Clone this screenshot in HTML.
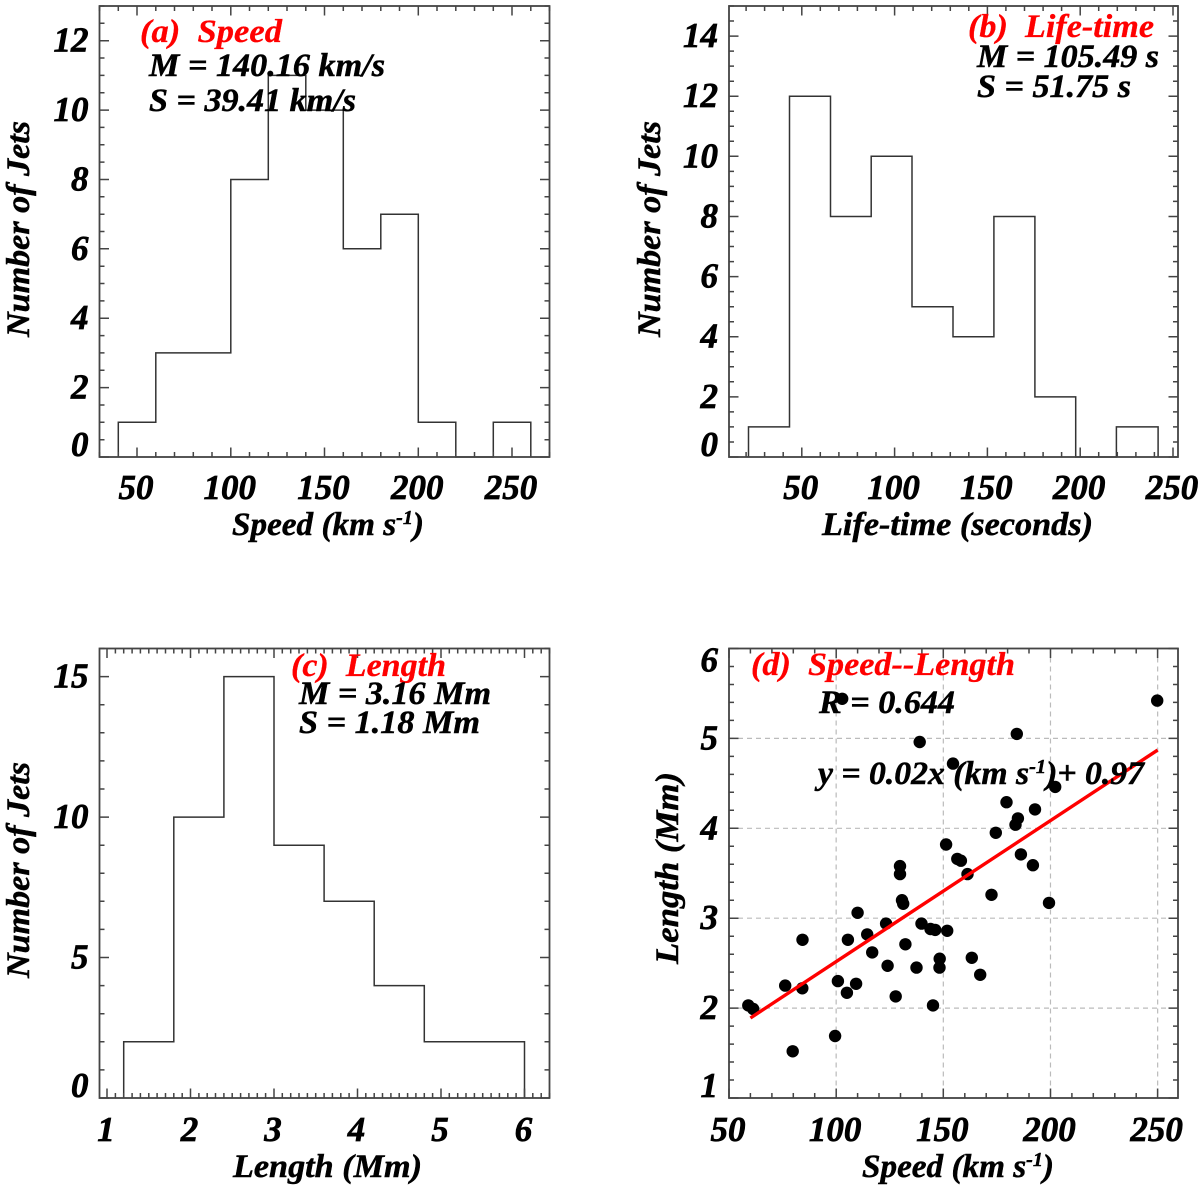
<!DOCTYPE html>
<html lang="en">
<head>
<meta charset="utf-8">
<title>Jet statistics</title>
<style>
html,body{margin:0;padding:0;background:#fff}
svg{display:block}
text{font-family:"Liberation Serif",serif;font-weight:bold;font-style:italic;fill:#000;white-space:pre}
.tick{font-size:35px;stroke:#000;stroke-width:.7px}
.title{font-size:33px;stroke:#000;stroke-width:.5px}
.note{font-size:33px;stroke:#000;stroke-width:.5px}
.red{font-size:33px;fill:#f00;stroke:#f00;stroke-width:.3px}
.sup{font-size:20px}
</style>
</head>
<body>
<svg id="figure" xmlns="http://www.w3.org/2000/svg" width="1200" height="1191" viewBox="0 0 1200 1191">
<rect width="1200" height="1191" fill="#fff"/>
<g id="panel-a"></g>
<g id="panel-b"></g>
<g id="panel-c"></g>
<g id="panel-d"></g>

<g>
<text class="title" transform="translate(29,229) rotate(-90)" x="-108" textLength="216" lengthAdjust="spacingAndGlyphs">Number of Jets</text>
<text class="title" x="232" y="535" textLength="192" lengthAdjust="spacingAndGlyphs">Speed (km s<tspan class="sup" dy="-11">-1</tspan><tspan dy="11">)</tspan></text>
<text class="red" x="140" y="42" textLength="142" lengthAdjust="spacingAndGlyphs">(a)  Speed</text>
<text class="note" x="149" y="76" textLength="236" lengthAdjust="spacingAndGlyphs">M = 140.16 km/s</text>
<text class="note" x="149" y="111" textLength="207" lengthAdjust="spacingAndGlyphs">S = 39.41 km/s</text>
</g>
<g>
<text class="title" transform="translate(660,229) rotate(-90)" x="-108" textLength="216" lengthAdjust="spacingAndGlyphs">Number of Jets</text>
<text class="title" x="822" y="535" textLength="271" lengthAdjust="spacingAndGlyphs">Life-time (seconds)</text>
<text class="red" x="968" y="37" textLength="186" lengthAdjust="spacingAndGlyphs">(b)  Life-time</text>
<text class="note" x="977" y="67" textLength="182" lengthAdjust="spacingAndGlyphs">M = 105.49 s</text>
<text class="note" x="977" y="97" textLength="154" lengthAdjust="spacingAndGlyphs">S = 51.75 s</text>
</g>
<g>
<text class="title" transform="translate(29,870) rotate(-90)" x="-108" textLength="216" lengthAdjust="spacingAndGlyphs">Number of Jets</text>
<text class="title" x="233" y="1177" textLength="189" lengthAdjust="spacingAndGlyphs">Length (Mm)</text>
<text class="red" x="291" y="676" textLength="155" lengthAdjust="spacingAndGlyphs">(c)  Length</text>
<text class="note" x="299" y="704" textLength="192" lengthAdjust="spacingAndGlyphs">M = 3.16 Mm</text>
<text class="note" x="299" y="733" textLength="181" lengthAdjust="spacingAndGlyphs">S = 1.18 Mm</text>
</g>
<g>
<text class="title" transform="translate(678,864) rotate(-90)" x="-100" textLength="192" lengthAdjust="spacingAndGlyphs">Length (Mm)</text>
<text class="title" x="862" y="1177" textLength="192" lengthAdjust="spacingAndGlyphs">Speed (km s<tspan class="sup" dy="-11">-1</tspan><tspan dy="11">)</tspan></text>
<text class="red" x="751" y="675" textLength="264" lengthAdjust="spacingAndGlyphs">(d)  Speed--Length</text>
<text class="note" x="819" y="713" textLength="136" lengthAdjust="spacingAndGlyphs">R = 0.644</text>
<text class="note" x="818" y="784" textLength="326" lengthAdjust="spacingAndGlyphs">y = 0.02x (km s<tspan class="sup" dy="-11">-1</tspan><tspan dy="11">)+ 0.97</tspan></text>
</g>
</svg>

<script>
// Panel (a) speed histogram
const speedEdges = [40, 60, 80, 100, 120, 140, 160, 180, 200, 220, 240, 260];
const speedCounts = [1, 3, 3, 8, 11, 10, 6, 7, 1, 0, 1];
const speedXTicks = [50, 100, 150, 200, 250];
const speedYTicks = [0, 2, 4, 6, 8, 10, 12];

// Panel (b) life-time histogram
const lifeEdges = [21.3, 43.4, 65.5, 87.4, 109.4, 131.5, 153.5, 175.6, 197.6, 219.5, 242];
const lifeCounts = [1, 12, 8, 10, 5, 4, 8, 2, 0, 1];
const lifeXTicks = [50, 100, 150, 200, 250];
const lifeYTicks = [0, 2, 4, 6, 8, 10, 12, 14];

// Panel (c) length histogram
const lengthEdges = [1.2, 1.8, 2.4, 3.0, 3.6, 4.2, 4.8, 5.4, 6.0];
const lengthCounts = [2, 10, 15, 9, 7, 4, 2, 2];
const lengthXTicks = [1, 2, 3, 4, 5, 6];
const lengthYTicks = [0, 5, 10, 15];

// Panel (d) speed vs length scatter
const scatterSpeed = [102.8, 249.8, 184.3, 139, 154.5, 202.2, 179.5, 192.8, 184.8, 183.7, 174.5, 151.3, 186.2, 156.5, 158.2, 191.8, 129.8, 129.8, 161.3, 172.5, 130.7, 131.3, 199.3, 110, 123.3, 139.8, 144, 146.2, 151.8, 114.5, 84.3, 105.5, 132.3, 116.8, 163.3, 148.3, 148.2, 124, 137.5, 167.2, 76.2, 109.3, 100.8, 84.2, 105, 127.8, 145.2, 59, 61.3, 99.5, 79.7];
const scatterLength = [5.44, 5.42, 5.05, 4.96, 4.72, 4.46, 4.29, 4.21, 4.11, 4.04, 3.95, 3.82, 3.71, 3.66, 3.64, 3.59, 3.58, 3.49, 3.49, 3.26, 3.20, 3.16, 3.17, 3.06, 2.94, 2.94, 2.88, 2.87, 2.86, 2.82, 2.76, 2.76, 2.71, 2.62, 2.56, 2.55, 2.45, 2.47, 2.45, 2.37, 2.25, 2.27, 2.30, 2.22, 2.17, 2.13, 2.03, 2.03, 1.99, 1.69, 1.52];
const fitSpeed = [60, 250];
const fitLength = [1.89, 4.87];
const scatterXTicks = [50, 100, 150, 200, 250];
const scatterYTicks = [1, 2, 3, 4, 5, 6];
const gridXValues = [100, 150, 200, 250];
const gridYValues = [2, 3, 4, 5];

const NS = 'http://www.w3.org/2000/svg';
const AXIS_COLOR = '#444';

function mk(parent, tag, attrs) {
  const el = document.createElementNS(NS, tag);
  for (const k in attrs) el.setAttribute(k, attrs[k]);
  parent.appendChild(el);
  return el;
}
function scale(d0, d1, r0, r1) {
  return function (v) { return r0 + (v - d0) / (d1 - d0) * (r1 - r0); };
}
function minorValues(lo, hi, step) {
  const out = [];
  const n0 = Math.ceil(lo / step - 1e-6);
  const n1 = Math.floor(hi / step + 1e-6);
  for (let n = n0; n <= n1; n++) out.push(+(n * step).toFixed(4));
  return out;
}

function drawAxes(g, cfg, sx, sy) {
  const L = cfg.left, R = cfg.right, T = cfg.top, B = cfg.bottom;
  const ticks = mk(g, 'g', {stroke: AXIS_COLOR, 'stroke-width': 1.5});
  
  
  let d = '';
  const xMajor = new Set(cfg.xTicks);
  minorValues(cfg.x0, cfg.x1, cfg.xMinor).forEach(function (v) {
    const len = xMajor.has(v) ? 9.5 : 5;
    const x = sx(v).toFixed(1);
    d += 'M' + x + ' ' + B + 'V' + (B - len) + 'M' + x + ' ' + T + 'V' + (T + len);
  });
  const yMajor = new Set(cfg.yTicks);
  minorValues(cfg.y0, cfg.y1, cfg.yMinor).forEach(function (v) {
    const len = yMajor.has(v) ? 9.5 : 5;
    const y = sy(v).toFixed(1);
    d += 'M' + L + ' ' + y + 'H' + (L + len) + 'M' + R + ' ' + y + 'H' + (R - len);
  });
  mk(ticks, 'path', {d: d, fill: 'none'});
  const frame = mk(g, 'rect', {x: L, y: T, width: R - L, height: B - T, fill: 'none', stroke: AXIS_COLOR, 'stroke-width': 1.8});
  
  

  cfg.xTicks.forEach(function (v) {
    const t = mk(g, 'text', {x: sx(v) - 1, y: cfg.xLabelY, 'text-anchor': 'middle', class: 'tick'});
    
    
    t.textContent = v;
  });
  cfg.yTicks.forEach(function (v) {
    const base = Math.max(T + 23, Math.min(B - 1, sy(v) + 11));
    const t = mk(g, 'text', {x: L - 11, y: base, 'text-anchor': 'end', class: 'tick'});
    
    
    t.textContent = v;
  });
}

function drawHistogram(g, edges, counts, sx, sy) {
  let d = 'M' + sx(edges[0]).toFixed(1) + ' ' + sy(0).toFixed(1);
  counts.forEach(function (c, i) {
    d += 'V' + sy(c).toFixed(1) + 'H' + sx(edges[i + 1]).toFixed(1);
  });
  d += 'V' + sy(0).toFixed(1);
  const p = mk(g, 'path', {d: d, fill: 'none', stroke: '#333', 'stroke-width': 1.5});
  
  
}

// Panel a
(function () {
  const cfg = {left: 99.5, right: 549.5, top: 6, bottom: 457, x0: 30, x1: 270, y0: 0, y1: 13, xMinor: 10, yMinor: 0.5, xTicks: speedXTicks, yTicks: speedYTicks, xLabelY: 499};
  const sx = scale(cfg.x0, cfg.x1, cfg.left, cfg.right), sy = scale(cfg.y0, cfg.y1, cfg.bottom, cfg.top);
  const g = document.getElementById('panel-a');
  drawHistogram(g, speedEdges, speedCounts, sx, sy);
  drawAxes(g, cfg, sx, sy);
})();

// Panel b
(function () {
  const cfg = {left: 729, right: 1178, top: 6, bottom: 457, x0: 10.8, x1: 252.7, y0: 0, y1: 15, xMinor: 10, yMinor: 0.5, xTicks: lifeXTicks, yTicks: lifeYTicks, xLabelY: 499};
  const sx = scale(cfg.x0, cfg.x1, cfg.left, cfg.right), sy = scale(cfg.y0, cfg.y1, cfg.bottom, cfg.top);
  const g = document.getElementById('panel-b');
  drawHistogram(g, lifeEdges, lifeCounts, sx, sy);
  drawAxes(g, cfg, sx, sy);
})();

// Panel c
(function () {
  const cfg = {left: 99.5, right: 549.5, top: 648.5, bottom: 1098, x0: 0.91, x1: 6.3, y0: 0, y1: 16, xMinor: 0.1, yMinor: 1, xTicks: lengthXTicks, yTicks: lengthYTicks, xLabelY: 1141};
  const sx = scale(cfg.x0, cfg.x1, cfg.left, cfg.right), sy = scale(cfg.y0, cfg.y1, cfg.bottom, cfg.top);
  const g = document.getElementById('panel-c');
  drawHistogram(g, lengthEdges, lengthCounts, sx, sy);
  drawAxes(g, cfg, sx, sy);
})();

// Panel d
(function () {
  const cfg = {left: 729, right: 1178, top: 648.5, bottom: 1098, x0: 50, x1: 259.5, y0: 1, y1: 6, xMinor: 10, yMinor: 0.2, xTicks: scatterXTicks, yTicks: scatterYTicks, xLabelY: 1141};
  const sx = scale(cfg.x0, cfg.x1, cfg.left, cfg.right), sy = scale(cfg.y0, cfg.y1, cfg.bottom, cfg.top);
  const g = document.getElementById('panel-d');
  const grid = mk(g, 'g', {stroke: '#bbb', 'stroke-width': 1.2, 'stroke-dasharray': '5 4'});
  
  
  gridXValues.forEach(function (v) {
    mk(grid, 'line', {x1: sx(v), x2: sx(v), y1: cfg.top, y2: cfg.bottom});
  });
  gridYValues.forEach(function (v) {
    mk(grid, 'line', {x1: cfg.left, x2: cfg.right, y1: sy(v), y2: sy(v)});
  });
  drawAxes(g, cfg, sx, sy);
  scatterSpeed.forEach(function (v, i) {
    const c = mk(g, 'circle', {cx: sx(v).toFixed(1), cy: sy(scatterLength[i]).toFixed(1), r: 6.2, fill: '#000'});
    
    
  });
  const fit = mk(g, 'line', {x1: sx(fitSpeed[0]), y1: sy(fitLength[0]), x2: sx(fitSpeed[1]), y2: sy(fitLength[1]), stroke: '#f00', 'stroke-width': 3.4});
  
  
})();
</script>
</body>
</html>
